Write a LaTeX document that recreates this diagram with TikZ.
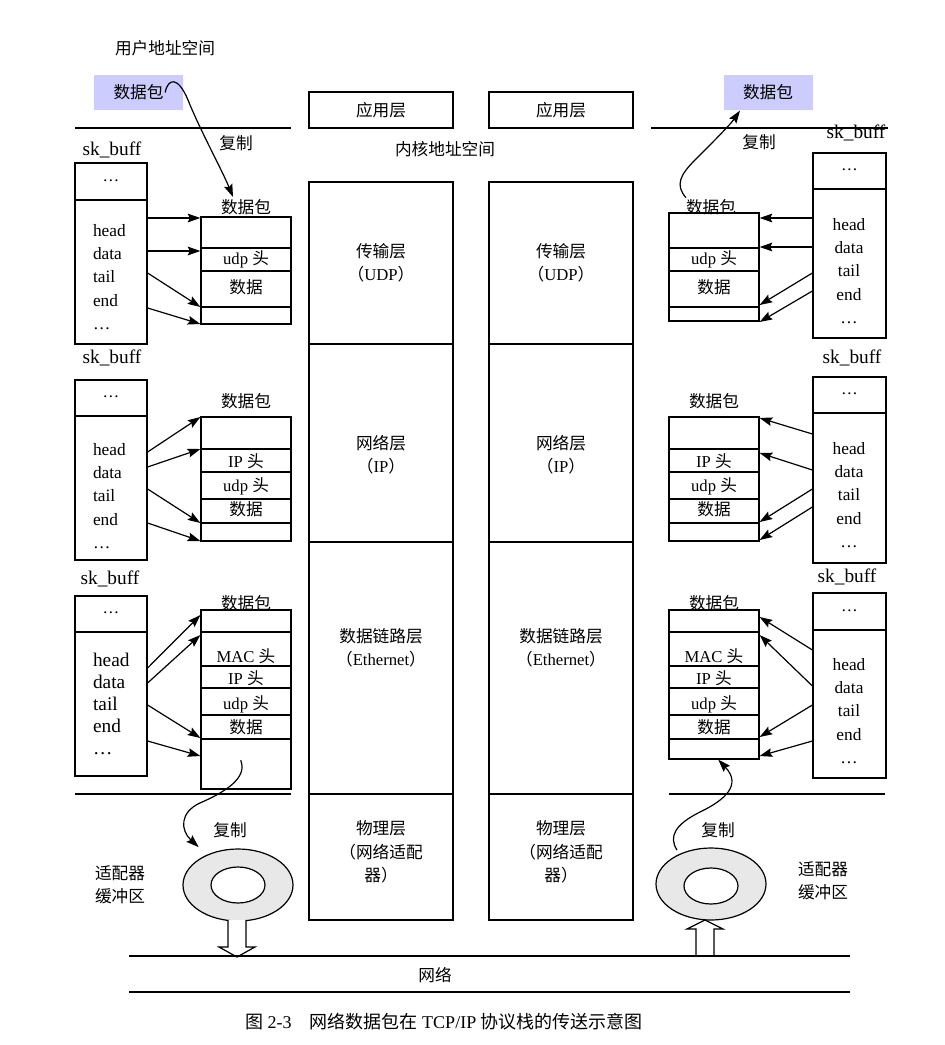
\documentclass[tikz,border=0pt]{standalone}
\usepackage{fontspec}
\setmainfont{Liberation Serif}
\newfontfamily\cjk{Noto Sans CJK SC}
\usetikzlibrary{arrows.meta}
\usetikzlibrary{shapes.geometric, fit}
\definecolor{userblue}{RGB}{204,204,255}
\definecolor{ringgray}{RGB}{232,232,232}
\newcommand{\zh}[1]{{\cjk #1}}

\begin{document}
\begin{tikzpicture}[x=0.75pt, y=-0.75pt, line width=0.9pt,
    font=\fontsize{12.5}{17.5}\selectfont,
    zh/.style={font=\cjk\fontsize{12.5}{17.5}\selectfont},
    big/.style={font=\fontsize{14.5}{16.5}\selectfont},
    lst/.style={font=\fontsize{13}{17.5}\selectfont},
    box/.style={draw, inner sep=0pt},
    arr/.style={-{Stealth[length=9.5pt, width=6.5pt, inset=1.5pt]}},
    userbox/.style={fill=userblue, minimum width=66.75pt, minimum height=26.25pt, inner sep=0pt},
    ring/.style={ellipse, draw, fill=ringgray, minimum width=82.5pt, minimum height=54pt, inner sep=0pt},
    hole/.style={ellipse, draw, fill=white, minimum width=40.5pt, minimum height=27pt, inner sep=0pt}]

    \useasboundingbox (0,0) rectangle (945,1045);

    % user space / kernel space
    \node[zh] (user) at (165,48) {用户地址空间};
    \node[zh, userbox] (pktUL) at (138.5,92.5) {数据包};
    \node[zh, userbox] (pktUR) at (768,92.5) {数据包};
    \draw (75,128) -- (291,128);
    \draw (651,128) -- (888,128);
    \draw (75,794) -- (291,794);
    \draw (669,794) -- (885,794);
    \node[zh] (kernel) at (445,149) {内核地址空间};

    % protocol stacks
    \foreach \cx/\side in {381/L, 561/R} {
        \node[box, zh, minimum width=108pt, minimum height=27pt] (app\side) at (\cx,110) {应用层};
        \node[box, minimum width=108pt, minimum height=121.5pt] (tra\side) at (\cx,263) {};
        \node[box, minimum width=108pt, minimum height=148.5pt] (net\side) at (\cx,443) {};
        \node[box, minimum width=108pt, minimum height=189pt] (lnk\side) at (\cx,668) {};
        \node[box, minimum width=108pt, minimum height=94.5pt] (phy\side) at (\cx,857) {};
        \node[align=center] at (\cx,263) {\zh{传输层}\\\zh{（}UDP\zh{）}};
        \node[align=center] at (\cx,455) {\zh{网络层}\\\zh{（}IP\zh{）}};
        \node[align=center] at (\cx,648) {\zh{数据链路层}\\\zh{（}Ethernet\zh{）}};
        \node[align=center] at (\cx,852) {\zh{物理层}\\\zh{（网络适配}\\\zh{器）}};
    }

    % sk_buff boxes
    \foreach \nm/\xa/\ya/\xb/\yb/\yd/\lx/\ly in {skA/75/163/147/344/200/112/150, skB/75/380/147/560/416/112/358,
        skC/75/596/147/776/632/110/579, skD/813/153/886/338/189/856/133,
        skE/813/377/886/563/413/852/358, skF/813/593/886/778/630/847/577} {
        \node[box, fit={(\xa,\ya) (\xb,\yd)}] (\nm top) {\dots};
        \node[box, fit={(\xa,\yd) (\xb,\yb)}] (\nm) {};
        \node[big] at (\lx,\ly) {sk\_buff};
    }
    \node[lst, align=left, anchor=west] at (88,277) {head\\data\\tail\\end\\\dots};
    \node[lst, align=left, anchor=west] at (88,496) {head\\data\\tail\\end\\\dots};
    \node[align=left, anchor=west, font=\fontsize{14.5}{16.5}\selectfont] at (88,704) {head\\data\\tail\\end\\\dots};
    \node[lst, align=center] at (849,271) {head\\data\\tail\\end\\\dots};
    \node[lst, align=center] at (849,495) {head\\data\\tail\\end\\\dots};
    \node[lst, align=center] at (849,711) {head\\data\\tail\\end\\\dots};

    % packets
    \node[box, fit={(201,217) (291,324)}] (pA) {};
    \node[box, fit={(201,417) (291,541)}] (pB) {};
    \node[box, fit={(201,610) (291,789)}] (pC) {};
    \node[box, fit={(669,213) (759,321)}] (pD) {};
    \node[box, fit={(669,417) (759,541)}] (pE) {};
    \node[box, fit={(669,610) (759,759)}] (pF) {};
    \foreach \y in {248,271,307} {
        \draw (pA.west |- 0,\y) -- (pA.east |- 0,\y);
        \draw (pD.west |- 0,\y) -- (pD.east |- 0,\y);
    }
    \foreach \y in {449,472,499,523} {
        \draw (pB.west |- 0,\y) -- (pB.east |- 0,\y);
        \draw (pE.west |- 0,\y) -- (pE.east |- 0,\y);
    }
    \foreach \y in {632,666,688,715,739} {
        \draw (pC.west |- 0,\y) -- (pC.east |- 0,\y);
        \draw (pF.west |- 0,\y) -- (pF.east |- 0,\y);
    }
    \foreach \cx/\lx in {246/246, 714/711} {
        \node[zh] at (\lx,207) {数据包};
        \node at (\cx,259) {udp \zh{头}};
        \node[zh] at (\cx,287) {数据};
        \node[zh] at (\cx,401) {数据包};
        \node at (\cx,461) {IP \zh{头}};
        \node at (\cx,486) {udp \zh{头}};
        \node[zh] at (\cx,509) {数据};
        \node[zh] at (\cx,603) {数据包};
        \node at (\cx,656) {MAC \zh{头}};
        \node at (\cx,678) {IP \zh{头}};
        \node at (\cx,704) {udp \zh{头}};
        \node[zh] at (\cx,727) {数据};
    }

    % head/data/tail/end pointers
    \foreach \ya/\yb in {218/218, 251/251, 273/307, 308/324}
        \draw[arr] (skA.east |- 0,\ya) -- (pA.west |- 0,\yb);
    \foreach \ya/\yb in {452/417, 467/449, 489/523, 523/541}
        \draw[arr] (skB.east |- 0,\ya) -- (pB.west |- 0,\yb);
    \foreach \ya/\yb in {668/615, 683/635, 705/738, 741/756}
        \draw[arr] (skC.east |- 0,\ya) -- (pC.west |- 0,\yb);
    \foreach \ya/\yb in {218/218, 247/247, 273/305, 291/322}
        \draw[arr] (skD.west |- 0,\ya) -- (pD.east |- 0,\yb);
    \foreach \ya/\yb in {434/418, 470/453, 489/522, 507/540}
        \draw[arr] (skE.west |- 0,\ya) -- (pE.east |- 0,\yb);
    \foreach \ya/\yb in {650/617, 686/635, 705/737, 741/756}
        \draw[arr] (skF.west |- 0,\ya) -- (pF.east |- 0,\yb);

    % adapter buffers
    \node[ring] (ringL) at (238,885) {};
    \node[hole] (holeL) at (238,885) {};
    \node[ring] (ringR) at (711,884) {};
    \node[hole] (holeR) at (711,886) {};
    \node[zh, align=center] at (120,885) {适配器\\缓冲区};
    \node[zh, align=center] at (823,881) {适配器\\缓冲区};
    \draw[fill=white] (228,920) -- (228,947) -- (219,947) -- (237,957) -- (255,947) -- (246,947) -- (246,920);
    \draw[fill=white] (696,956) -- (696,929) -- (687,929) -- (705,920) -- (723,929) -- (714,929) -- (714,956);

    % copies
    \draw[arr] ([xshift=20pt]pktUL.center) .. controls (168,78) and (178,76) .. (188,100)
        .. controls (200,130) and (222,170) .. (233,197);
    \draw[arr] ([xshift=-21pt, yshift=11pt]pD.north) .. controls (675,185) and (680,175) .. (695,160)
        .. controls (710,145) and (730,125) .. ([xshift=-21pt]pktUR.south);
    \draw[arr] ([xshift=-4pt, yshift=22pt]pC.south) .. controls (248,778) and (225,792) .. (200,803)
        .. controls (180,812) and (180,830) .. ([yshift=9pt]ringL.north west);
    \draw[arr] ([xshift=4pt, yshift=6pt]ringR.north west) .. controls (668,836) and (676,824) .. (700,812)
        .. controls (725,800) and (742,785) .. ([xshift=-31pt]pF.south east);
    \node[zh] at (236,143) {复制};
    \node[zh] at (759,142) {复制};
    \node[zh] at (230,830) {复制};
    \node[zh] at (718,830) {复制};

    % network
    \draw (129,956) -- (850,956);
    \draw (129,992) -- (850,992);
    \node[zh] (net) at (435,975) {网络};
    \node[font=\fontsize{13.5}{16}\selectfont] (caption) at (444,1022)
        {\zh{图} 2-3\quad\zh{网络数据包在} TCP/IP \zh{协议栈的传送示意图}};

\end{tikzpicture}
\end{document}
